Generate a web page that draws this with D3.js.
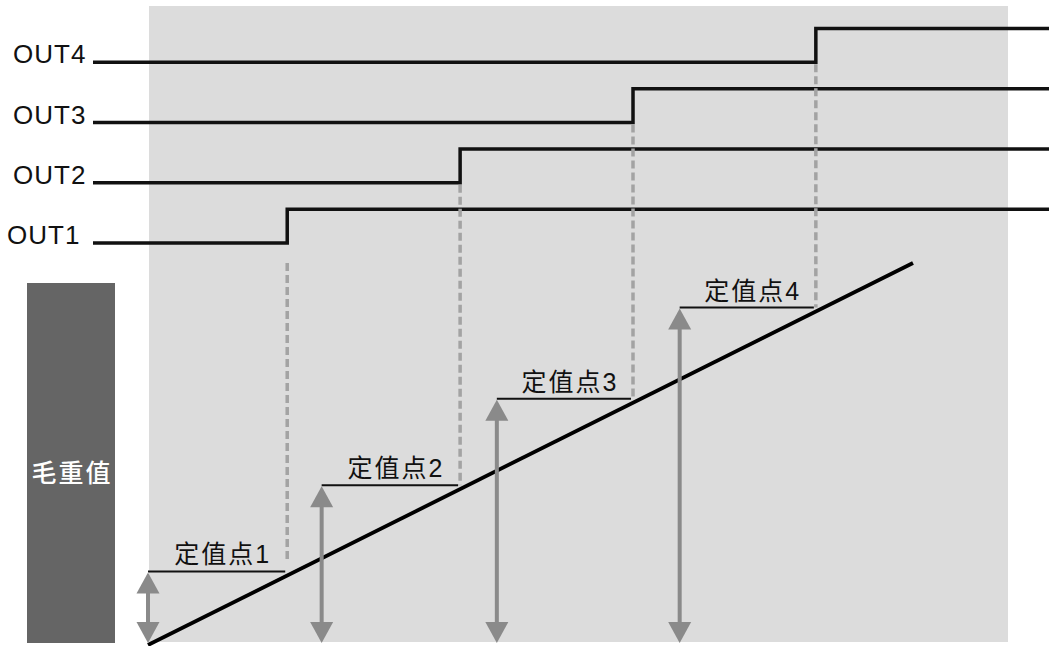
<!DOCTYPE html>
<html><head><meta charset="utf-8">
<script src="https://cdn.jsdelivr.net/npm/d3@7"></script>
<style>html,body{margin:0;padding:0;background:#fff;} svg{display:block}</style>
</head><body>
<svg id="chart" width="1049" height="646"></svg>
<script>
// ---- data ----
const channels = ["OUT1", "OUT2", "OUT3", "OUT4"];
const setpointLabels = ["定值点1", "定值点2", "定值点3", "定值点4"];
const setpoints = [18.2, 40.8, 63.4, 87.3];      // gross weight at which each output switches on
const arrowStarts = [0, 22.7, 45.6, 69.5];       // weight position of each setpoint measuring arrow
const weightDomain = [0, 100];                    // gross-weight ramp
const axisLabel = "毛重值";

// ---- scales ----
const svg = d3.select("#chart");
const x = d3.scaleLinear().domain(weightDomain).range([148, 913]);
const y = d3.scaleLinear().domain(weightDomain).range([645, 263]);
const yOut = d3.scaleLinear().domain([0, 4]).range([243, 2]);
const highState = 0.56;
const latin = "'Liberation Sans', Arial, 'Noto Sans CJK SC', sans-serif";

// background panel
svg.append("rect").attr("x", 149).attr("y", 6).attr("width", 859).attr("height", 636).attr("fill", "#dcdcdc");

// dark gross-weight bar
svg.append("rect").attr("x", 27).attr("y", 283).attr("width", 88).attr("height", 360).attr("fill", "#656565");
svg.append("text").attr("x", 72).attr("y", 482).attr("text-anchor", "middle")
  .attr("fill", "#fff").attr("font-family", "'Noto Sans CJK SC', sans-serif")
  .attr("font-size", 25).attr("font-weight", 500).attr("letter-spacing", 2).text(axisLabel);

// output step lines
const line = d3.line().x(d => d[0]).y(d => d[1]);
channels.forEach((name, i) => {
  const low = yOut(i), high = yOut(i + highState), sx = x(setpoints[i]);
  svg.append("path").attr("d", line([[93, low], [sx, low], [sx, high], [1049, high]]))
    .attr("fill", "none").attr("stroke", "#111").attr("stroke-width", 3.5);
  svg.append("text").attr("x", i === 0 ? 7 : 13).attr("y", low + 1)
    .attr("font-family", latin).attr("font-size", 26).attr("letter-spacing", 1)
    .attr("fill", "#111").text(name);
});

// dashed drop lines, setpoint lines, arrows, labels
setpoints.forEach((s, i) => {
  const sx = x(s);
  const lineY = y(s) - 4;
  const ax = x(arrowStarts[i]);
  const low = yOut(i);
  svg.append("line").attr("x1", sx).attr("x2", sx)
    .attr("y1", low + (i === 0 ? 20 : 2)).attr("y2", lineY - (i === 0 ? 12 : 0))
    .attr("stroke", "#a3a3a3").attr("stroke-width", 3.5).attr("stroke-dasharray", "8,4");
  svg.append("line").attr("x1", ax).attr("x2", sx - 2).attr("y1", lineY).attr("y2", lineY)
    .attr("stroke", "#111").attr("stroke-width", 2);
  svg.append("text").attr("x", (ax + sx) / 2 + 5).attr("y", lineY - 8).attr("text-anchor", "middle")
    .attr("font-family", latin).attr("font-size", 25).attr("letter-spacing", 2)
    .attr("fill", "#111").text(setpointLabels[i]);
});

// gross-weight ramp
svg.append("path").attr("d", line([[x(weightDomain[0]), y(weightDomain[0])], [x(weightDomain[1]), y(weightDomain[1])]]))
  .attr("stroke", "#000").attr("stroke-width", 3.8).attr("fill", "none");

// double-headed arrows
setpoints.forEach((s, i) => {
  const ax = x(arrowStarts[i]);
  const top = y(s) - 3, bot = 643, hw = 11.5, hl = 21;
  const g = svg.append("g").attr("fill", "#8a8a8a");
  g.append("rect").attr("x", ax - 2).attr("y", top + hl - 1).attr("width", 4).attr("height", bot - top - 2 * hl + 2);
  g.append("path").attr("d", `M${ax},${top}L${ax + hw},${top + hl}L${ax - hw},${top + hl}Z`);
  g.append("path").attr("d", `M${ax},${bot}L${ax + hw},${bot - hl}L${ax - hw},${bot - hl}Z`);
});
</script>
</body></html>
